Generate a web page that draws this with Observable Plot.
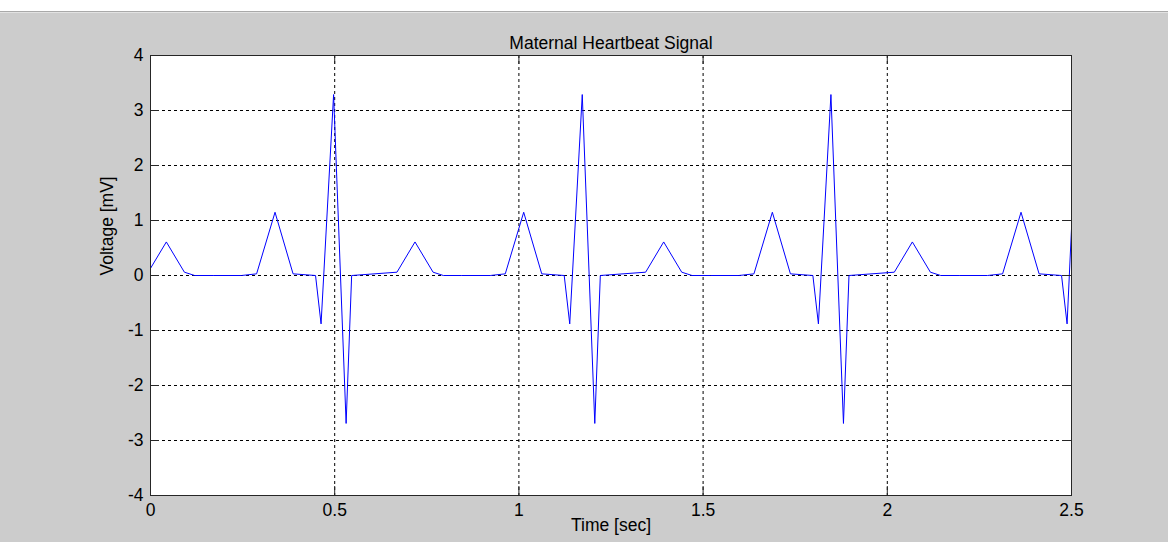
<!DOCTYPE html>
<html><head><meta charset="utf-8">
<script src="https://cdn.jsdelivr.net/npm/d3@7"></script>
<script src="https://cdn.jsdelivr.net/npm/@observablehq/plot@0.6"></script>
<style>
html,body{margin:0;padding:0;background:#cccccc;width:1168px;height:542px;overflow:hidden;}
#strip{position:absolute;left:0;top:0;width:1168px;height:11px;background:#ffffff;border-bottom:1px solid #a9a9a9;}
#strip2{position:absolute;left:0;top:12px;width:1168px;height:1px;background:#e2e2e2;}
#chart{position:absolute;left:0;top:0;}
</style></head><body>
<div id="strip"></div><div id="strip2"></div><div id="chart"></div>
<script>
const titleText = "Maternal Heartbeat Signal";
const xLabelText = "Time [sec]";
const yLabelText = "Voltage [mV]";
const xTicks = [0, 0.5, 1, 1.5, 2, 2.5];
const yTicks = [-4, -3, -2, -1, 0, 1, 2, 3, 4];

// Vertices of the piecewise-linear maternal ECG trace
const times = [
  0.000, 0.043, 0.092, 0.120, 0.170,
  0.247, 0.288, 0.338, 0.387, 0.448, 0.463, 0.497, 0.531, 0.546, 0.669, 0.718, 0.767, 0.795, 0.845,
  0.922, 0.963, 1.013, 1.062, 1.123, 1.138, 1.172, 1.206, 1.221, 1.344, 1.393, 1.442, 1.470, 1.520,
  1.597, 1.638, 1.688, 1.737, 1.798, 1.813, 1.847, 1.881, 1.896, 2.019, 2.068, 2.117, 2.145, 2.195,
  2.272, 2.313, 2.363, 2.412, 2.473, 2.488, 2.500
];
const volts = [
  0.13, 0.61, 0.06, 0.00, 0.00,
  0.00, 0.03, 1.15, 0.03, 0.00, -0.88, 3.29, -2.69, 0.00, 0.06, 0.61, 0.06, 0.00, 0.00,
  0.00, 0.03, 1.15, 0.03, 0.00, -0.88, 3.29, -2.69, 0.00, 0.06, 0.61, 0.06, 0.00, 0.00,
  0.00, 0.03, 1.15, 0.03, 0.00, -0.88, 3.29, -2.69, 0.00, 0.06, 0.61, 0.06, 0.00, 0.00,
  0.00, 0.03, 1.15, 0.03, 0.00, -0.88, 0.85
];

const frameW = 1168 - 150 - 97;
const frameH = 542 - 55 - 47;
const tickLen = 9;
const axisColor = "#262626";

const chart = Plot.plot({
  width: 1168,
  height: 542,
  marginLeft: 150,
  marginRight: 97,
  marginTop: 55,
  marginBottom: 47,
  style: {background: "transparent", fontFamily: "'Liberation Sans', Arial, sans-serif", fontSize: "17.5px", color: "#000", overflow: "visible"},
  x: {domain: [0, 2.5]},
  y: {domain: [-4, 4]},
  marks: [
    Plot.frame({fill: "white", stroke: null}),
    Plot.gridX(xTicks, {stroke: "#000", strokeOpacity: 1, strokeDasharray: "3,3"}),
    Plot.gridY(yTicks, {stroke: "#000", strokeOpacity: 1, strokeDasharray: "3,3"}),
    Plot.line(volts, {x: times, y: volts, stroke: "#0000ff", strokeWidth: 1, clip: true}),
    Plot.tickY(yTicks, {y: d => d, insetRight: frameW - tickLen, stroke: axisColor}),
    Plot.tickY(yTicks, {y: d => d, insetLeft: frameW - tickLen, stroke: axisColor}),
    Plot.tickX(xTicks, {x: d => d, insetTop: frameH - tickLen, stroke: axisColor}),
    Plot.tickX(xTicks, {x: d => d, insetBottom: frameH - tickLen, stroke: axisColor}),
    Plot.frame({stroke: axisColor}),
    Plot.axisX(xTicks, {tickSize: 0, tickPadding: 8, tickFormat: d => String(d), label: null}),
    Plot.axisY(yTicks, {tickSize: 0, tickPadding: 7, tickFormat: d => String(d), label: null}),
    Plot.text([titleText], {text: d => d, frameAnchor: "top", dy: -19}),
    Plot.text([xLabelText], {text: d => d, frameAnchor: "bottom", dy: 35}),
    Plot.text([yLabelText], {text: d => d, frameAnchor: "left", rotate: -90, dx: -43})
  ]
});
document.getElementById("chart").appendChild(chart);
</script></body></html>
